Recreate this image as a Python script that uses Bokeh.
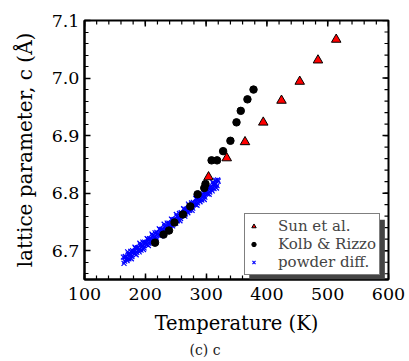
from bokeh.plotting import figure
from bokeh.models import (FixedTicker, Legend, LegendItem, BoxAnnotation, Title)
from bokeh.embed import file_html
from bokeh.resources import INLINE

# ---- data ----
sun_T = [304, 334, 364, 394, 424, 454, 484, 514]
sun_c = [6.828, 6.861, 6.889, 6.923, 6.961, 6.994, 7.031, 7.067]

kolb_T = [216, 230, 239, 248, 262, 274, 286, 297, 299, 309, 318, 328, 340, 350, 357, 368, 378]
kolb_c = [6.714, 6.728, 6.735, 6.749, 6.763, 6.777, 6.798, 6.809, 6.816, 6.857, 6.857, 6.873,
          6.891, 6.923, 6.943, 6.963, 6.980]

powder_T_a = [164, 166, 168, 170, 172, 174, 176, 178, 180, 182, 184, 186, 188, 190, 192, 194,
              196, 198, 200, 202, 204, 206, 208, 210, 212, 214, 216, 218, 220, 222, 224, 226,
              228, 230, 232, 234, 236, 238, 240, 242, 244, 246, 248, 250, 252, 254, 256, 258,
              260, 262, 264, 266, 268, 270, 272, 274, 276, 278, 280, 282, 284, 286, 288, 290,
              292, 294, 296, 298, 300, 302, 304, 306, 308, 310, 312, 314, 316, 318, 320]
powder_c_a = [6.689, 6.682, 6.689, 6.683, 6.694, 6.691, 6.699, 6.690, 6.697, 6.695, 6.704, 6.697,
              6.705, 6.698, 6.710, 6.706, 6.715, 6.705, 6.713, 6.711, 6.720, 6.713, 6.720, 6.714,
              6.726, 6.722, 6.731, 6.722, 6.729, 6.727, 6.737, 6.729, 6.737, 6.731, 6.742, 6.739,
              6.748, 6.739, 6.746, 6.744, 6.754, 6.747, 6.754, 6.748, 6.760, 6.757, 6.765, 6.756,
              6.764, 6.762, 6.772, 6.764, 6.772, 6.766, 6.778, 6.775, 6.783, 6.774, 6.782, 6.780,
              6.790, 6.783, 6.791, 6.785, 6.796, 6.793, 6.802, 6.793, 6.801, 6.799, 6.809, 6.802,
              6.810, 6.804, 6.816, 6.813, 6.822, 6.813, 6.821]

powder_T_b = [165, 167, 169, 171, 173, 175, 177, 179, 181, 183, 185, 187, 189, 191, 193, 195,
              197, 199, 201, 203, 205, 207, 209, 211, 213, 215, 217, 219, 221, 223, 225, 227,
              229, 231, 233, 235, 237, 239, 241, 243, 245, 247, 249, 251, 253, 255, 257, 259,
              261, 263, 265, 267, 269, 271, 273, 275, 277, 279, 281, 283, 285, 287, 289, 291,
              293, 295, 297, 299, 301, 303, 305, 307, 309, 311, 313, 315, 317, 319]
powder_c_b = [6.678, 6.690, 6.686, 6.698, 6.686, 6.694, 6.686, 6.700, 6.697, 6.706, 6.693, 6.705,
              6.701, 6.713, 6.701, 6.709, 6.702, 6.715, 6.713, 6.721, 6.709, 6.721, 6.717, 6.729,
              6.718, 6.725, 6.718, 6.732, 6.729, 6.738, 6.726, 6.737, 6.734, 6.746, 6.734, 6.742,
              6.735, 6.748, 6.746, 6.755, 6.743, 6.754, 6.751, 6.763, 6.752, 6.759, 6.752, 6.766,
              6.764, 6.773, 6.760, 6.772, 6.769, 6.781, 6.770, 6.778, 6.770, 6.784, 6.782, 6.791,
              6.779, 6.791, 6.788, 6.800, 6.788, 6.796, 6.789, 6.803, 6.801, 6.810, 6.798, 6.810,
              6.807, 6.819, 6.808, 6.816, 6.809, 6.823]

x_ticks = [100, 200, 300, 400, 500, 600]
y_ticks = [6.7, 6.8, 6.9, 7.0, 7.1]
x_minor = [100 + 20 * i for i in range(26)]
y_minor = [round(6.66 + 0.02 * i, 2) for i in range(23)]

X_RANGE = (100, 600)
Y_RANGE = (6.65, 7.1)

FONT = "DejaVu Serif"

p = figure(width=409, height=361, x_range=X_RANGE, y_range=Y_RANGE,
           output_backend="svg", toolbar_location=None,
           min_border_left=84, min_border_right=21, min_border_top=20, min_border_bottom=82)
p.grid.visible = False
p.outline_line_color = "black"
p.outline_line_width = 2
p.background_fill_color = "white"
p.border_fill_color = "white"

p.xaxis.axis_label = "Temperature (K)"
p.yaxis.axis_label = "lattice parameter, c (Å)"

xt = FixedTicker(ticks=x_ticks, minor_ticks=x_minor)
yt = FixedTicker(ticks=y_ticks, minor_ticks=y_minor)
p.xaxis.ticker = xt
p.yaxis.ticker = yt
for ax in (p.xaxis[0], p.yaxis[0]):
    ax.axis_line_color = "black"
    ax.axis_line_width = 2
    ax.major_tick_in = 6
    ax.major_tick_out = 0
    ax.minor_tick_in = 4
    ax.minor_tick_out = 0
    ax.major_tick_line_width = 1.5
    ax.minor_tick_line_width = 1.2
    ax.major_label_text_font = FONT
    ax.major_label_text_font_size = "17.5px"
    ax.major_label_text_color = "black"
    ax.axis_label_text_font = FONT
    ax.axis_label_text_font_style = "normal"
    ax.axis_label_text_color = "black"
p.xaxis.axis_label_text_font_size = "19.5px"
p.yaxis.axis_label_text_font_size = "20px"
p.xaxis.major_label_standoff = 8
p.xaxis.axis_label_standoff = 9
p.yaxis.major_label_standoff = 5
p.yaxis.axis_label_standoff = 12
p.xaxis.major_label_overrides = {t: str(t) for t in x_ticks}
p.yaxis.major_label_overrides = {t: f"{t:.1f}" for t in y_ticks}

# mirrored inward ticks on top and right edges (pixel lengths converted to data units)
px_y = (Y_RANGE[1] - Y_RANGE[0]) / 258.7
px_x = (X_RANGE[1] - X_RANGE[0]) / 304.0
for ticks, length, w in ((x_ticks, 6, 1.5), (x_minor, 4, 1.2)):
    p.segment(x0=ticks, x1=ticks, y0=[Y_RANGE[1]] * len(ticks),
              y1=[Y_RANGE[1] - length * px_y] * len(ticks), line_color="black", line_width=w)
for ticks, length, w in ((y_ticks, 6, 1.5), (y_minor, 4, 1.2)):
    p.segment(y0=ticks, y1=ticks, x0=[X_RANGE[1]] * len(ticks),
              x1=[X_RANGE[1] - length * px_x] * len(ticks), line_color="black", line_width=w)

powder_T = powder_T_a + powder_T_b
powder_c = powder_c_a + powder_c_b
r_powder = p.scatter(powder_T, powder_c, marker="x", size=7, line_color="#0000ff", line_width=1.2)
r_kolb = p.scatter(kolb_T, kolb_c, marker="circle", size=7.5, fill_color="black", line_color="black")
r_sun = p.scatter(sun_T, sun_c, marker="triangle", size=9.5, fill_color="red", line_color="black",
                  line_width=1)

# legend shadow
shadow = BoxAnnotation(left=371, right=594, bottom=6.65, top=6.754, fill_color="#444444",
                       fill_alpha=1.0, line_color=None, level="overlay")
p.add_layout(shadow)

legend = Legend(items=[LegendItem(label="Sun et al.", renderers=[r_sun]),
                       LegendItem(label="Kolb & Rizzo", renderers=[r_kolb]),
                       LegendItem(label="powder diff.", renderers=[r_powder])],
                location=(160, 4), label_text_font=FONT, label_text_font_size="15px",
                glyph_width=11, glyph_height=16, label_height=18, label_standoff=19,
                padding=3, spacing=0, margin=0, border_line_color="black",
                border_line_width=1.5, background_fill_alpha=1.0,
                background_fill_color="white")
p.add_layout(legend, "center")

cap = Title(text="(c) c", align="left", offset=105, text_font=FONT, text_font_size="14px",
            text_font_style="normal", text_color="#222222", standoff=4)
p.add_layout(cap, "below")

open("out.html", "w").write(file_html(p, INLINE))
